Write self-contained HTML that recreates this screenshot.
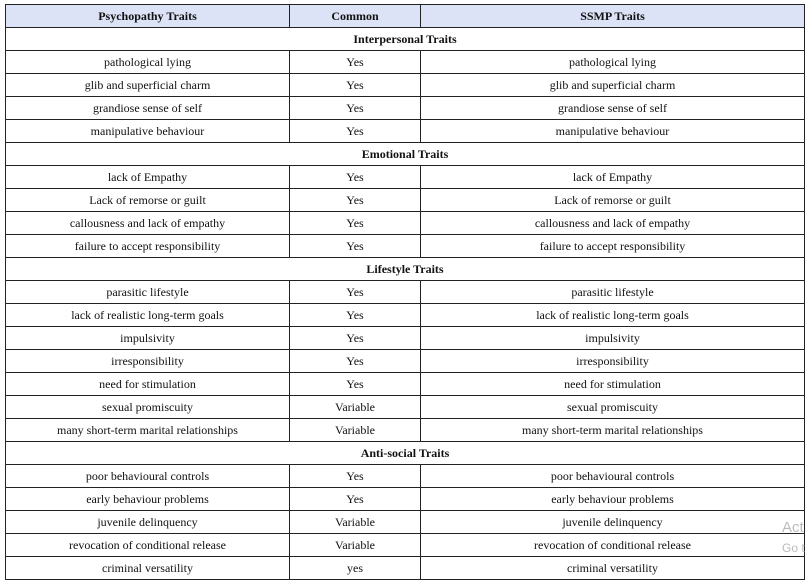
<!DOCTYPE html>
<html><head><meta charset="utf-8"><style>
html,body{margin:0;padding:0;background:#fff;width:809px;height:586px;overflow:hidden}
table{position:absolute;left:5px;top:4px;border-collapse:collapse;table-layout:fixed;width:799px;font-family:"Liberation Serif","DejaVu Serif",serif;font-size:12px;color:#111}
td,th{border:1px solid #222;height:22px;padding:0;text-align:center;vertical-align:middle;white-space:nowrap}
th{background:#dde3f7;font-weight:bold}
td.s{font-weight:bold}
.wm{position:absolute;left:782px;font-family:"Liberation Sans",sans-serif;color:#bbb;font-size:15px}
</style></head><body>
<table>
<colgroup><col style="width:284px"><col style="width:131px"><col style="width:384px"></colgroup>
<tr><th>Psychopathy Traits</th><th>Common</th><th>SSMP Traits</th></tr>
<tr><td class="s" colspan="3">Interpersonal Traits</td></tr>
<tr><td>pathological lying</td><td>Yes</td><td>pathological lying</td></tr>
<tr><td>glib and superficial charm</td><td>Yes</td><td>glib and superficial charm</td></tr>
<tr><td>grandiose sense of self</td><td>Yes</td><td>grandiose sense of self</td></tr>
<tr><td>manipulative behaviour</td><td>Yes</td><td>manipulative behaviour</td></tr>
<tr><td class="s" colspan="3">Emotional Traits</td></tr>
<tr><td>lack of Empathy</td><td>Yes</td><td>lack of Empathy</td></tr>
<tr><td>Lack of remorse or guilt</td><td>Yes</td><td>Lack of remorse or guilt</td></tr>
<tr><td>callousness and lack of empathy</td><td>Yes</td><td>callousness and lack of empathy</td></tr>
<tr><td>failure to accept responsibility</td><td>Yes</td><td>failure to accept responsibility</td></tr>
<tr><td class="s" colspan="3">Lifestyle Traits</td></tr>
<tr><td>parasitic lifestyle</td><td>Yes</td><td>parasitic lifestyle</td></tr>
<tr><td>lack of realistic long-term goals</td><td>Yes</td><td>lack of realistic long-term goals</td></tr>
<tr><td>impulsivity</td><td>Yes</td><td>impulsivity</td></tr>
<tr><td>irresponsibility</td><td>Yes</td><td>irresponsibility</td></tr>
<tr><td>need for stimulation</td><td>Yes</td><td>need for stimulation</td></tr>
<tr><td>sexual promiscuity</td><td>Variable</td><td>sexual promiscuity</td></tr>
<tr><td>many short-term marital relationships</td><td>Variable</td><td>many short-term marital relationships</td></tr>
<tr><td class="s" colspan="3">Anti-social Traits</td></tr>
<tr><td>poor behavioural controls</td><td>Yes</td><td>poor behavioural controls</td></tr>
<tr><td>early behaviour problems</td><td>Yes</td><td>early behaviour problems</td></tr>
<tr><td>juvenile delinquency</td><td>Variable</td><td>juvenile delinquency</td></tr>
<tr><td>revocation of conditional release</td><td>Variable</td><td>revocation of conditional release</td></tr>
<tr><td>criminal versatility</td><td>yes</td><td>criminal versatility</td></tr>
</table>
<div class="wm" style="top:519px">Act</div>
<div class="wm" style="top:541px;font-size:12px">Go t</div>
</body></html>
